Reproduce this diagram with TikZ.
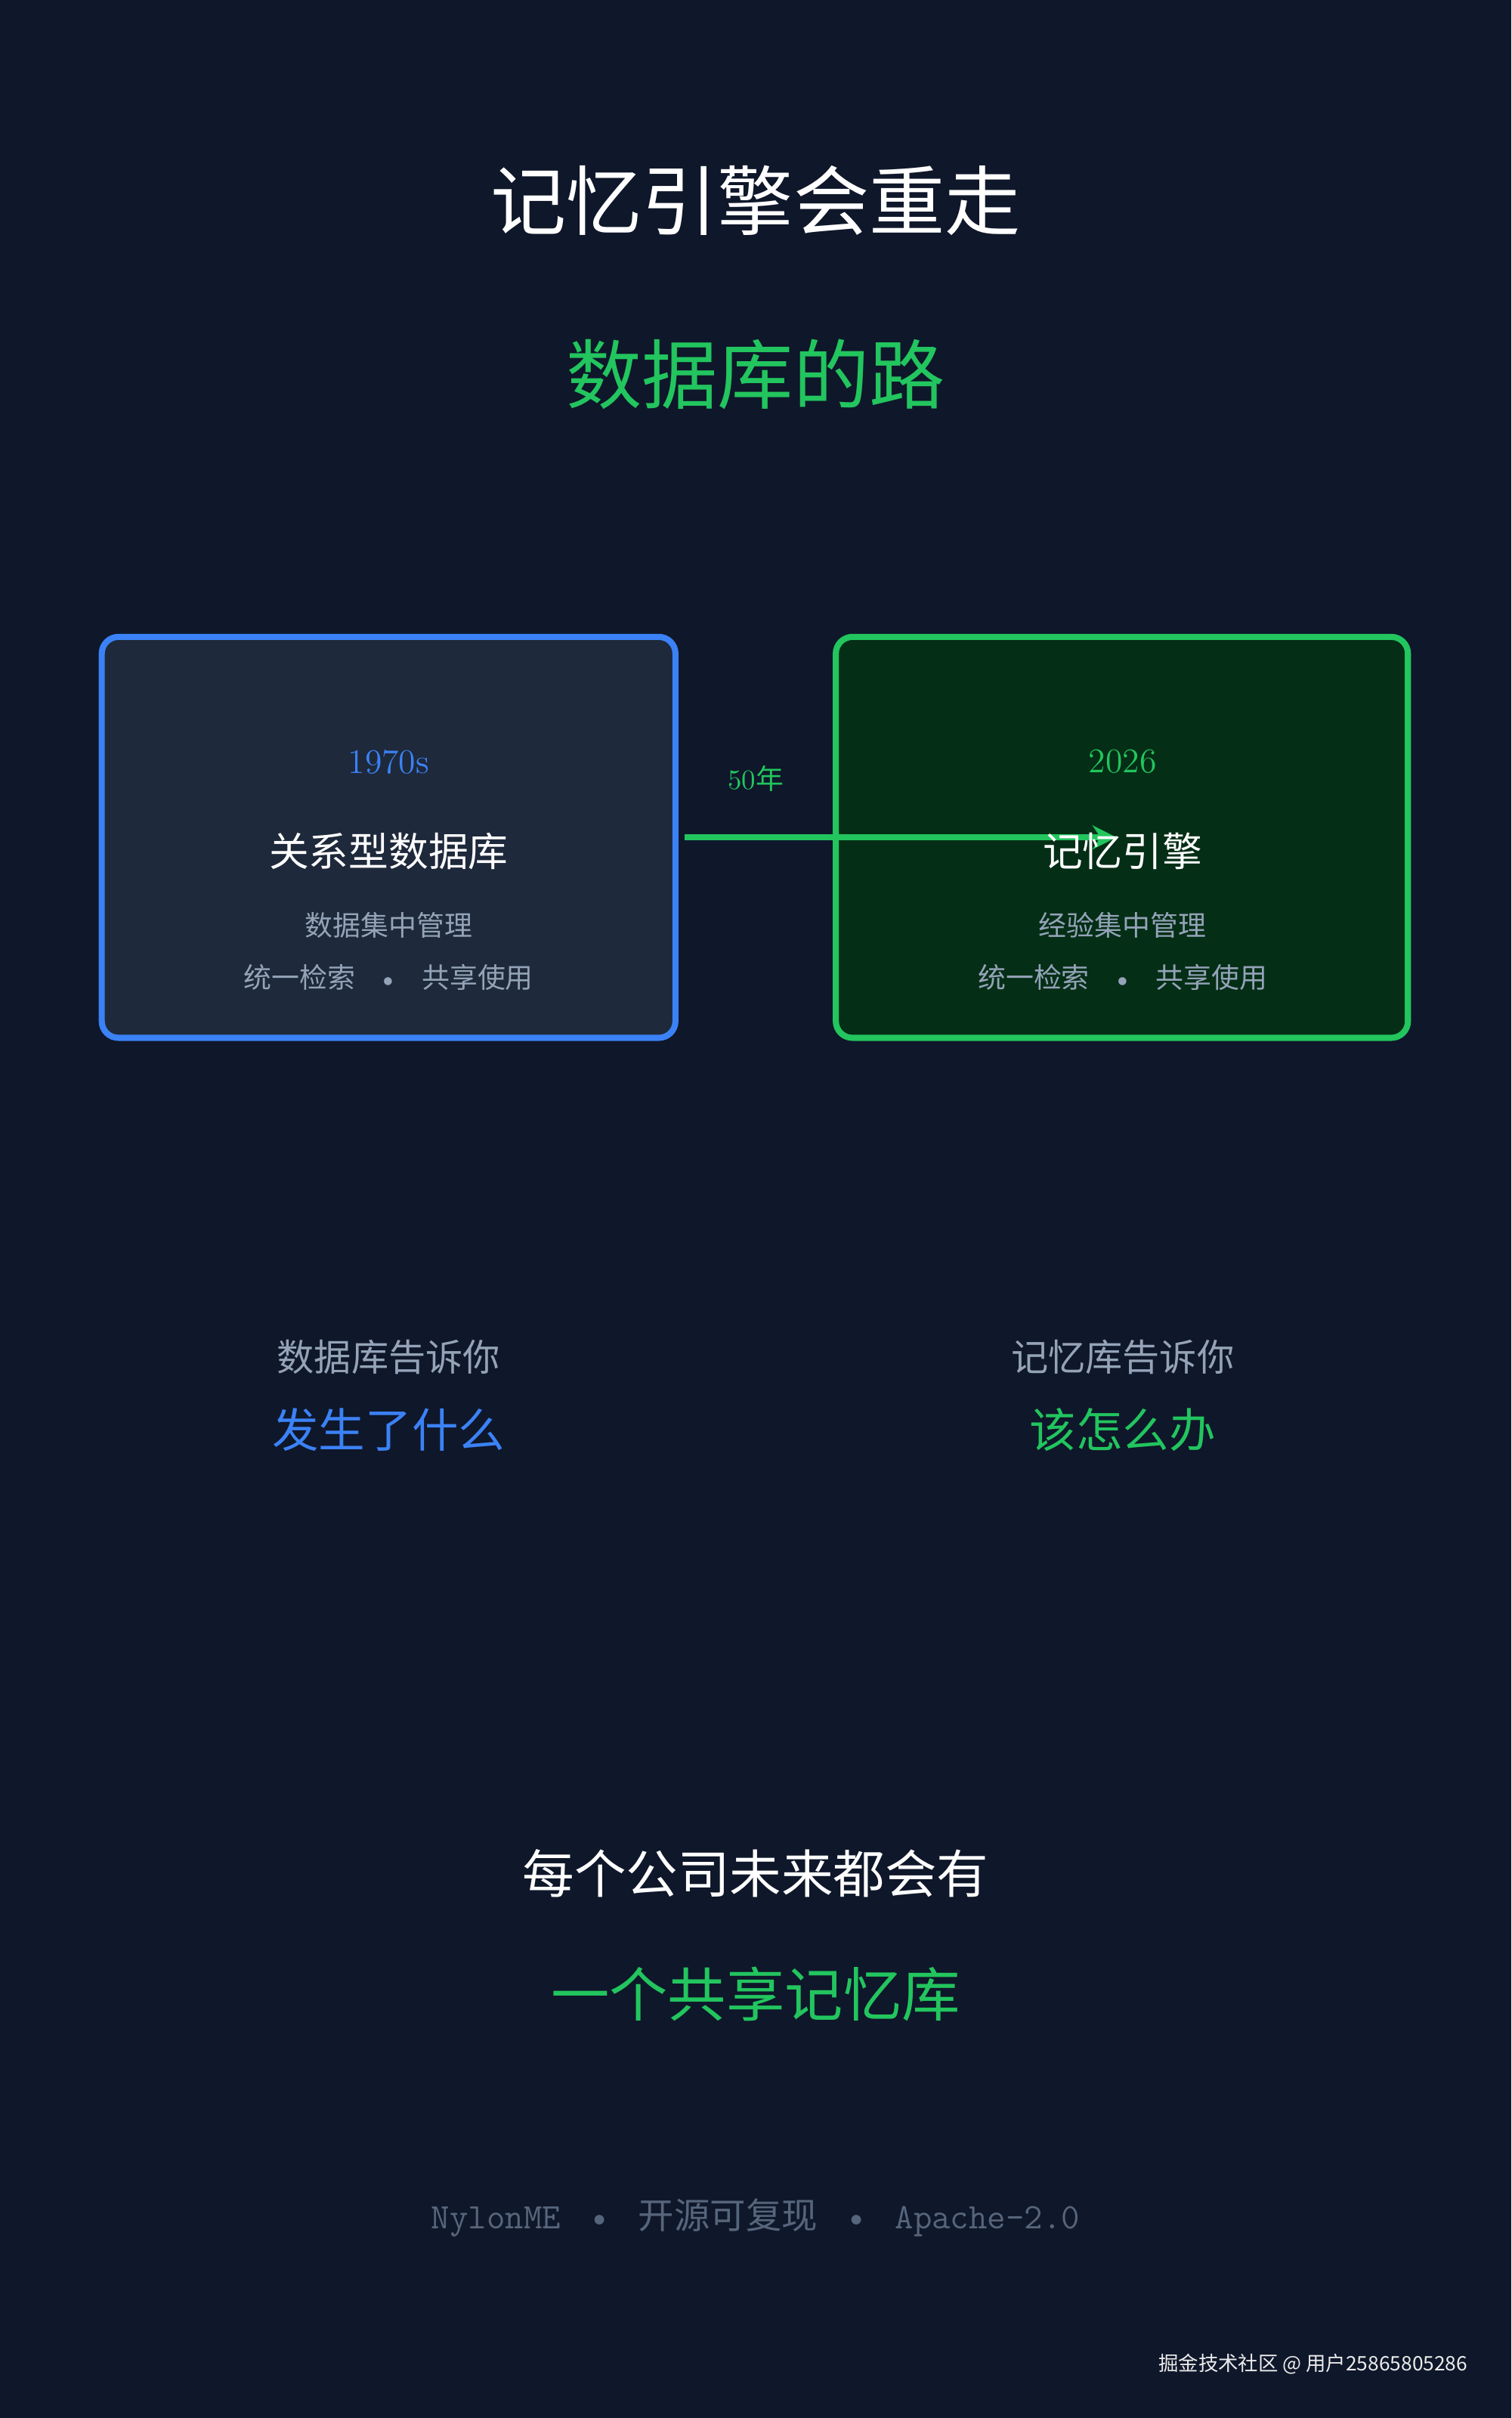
\documentclass[tikz,border=0pt]{standalone}
\usepackage{fontspec}
\newfontfamily\cjk{Noto Sans CJK SC}
\usetikzlibrary{arrows.meta}
\definecolor{bg}{HTML}{0F172A}
\definecolor{blu}{HTML}{3B82F6}
\definecolor{grn}{HTML}{22C55E}
\definecolor{gry}{HTML}{94A3B8}
\definecolor{dgry}{HTML}{56657C}
\definecolor{boxa}{HTML}{1E293B}
\definecolor{boxb}{HTML}{052E16}
\begin{document}
\begin{tikzpicture}[x=0.020408cm,y=-0.020408cm,
  t/.style={inner sep=0pt,anchor=center},
  card/.style={rounded corners=0.22cm,line width=2.3pt}]
\fill[bg] (0,0) rectangle (980,1568);
\useasboundingbox (0,0) rectangle (980,1568);
\node[t,text=white,font=\cjk\fontsize{28.5}{34}\selectfont] (title) at (490,130) {记忆引擎会重走};
\node[t,text=grn,font=\cjk\fontsize{28.5}{34}\selectfont] (sub) at (490,243) {数据库的路};
\draw[card,draw=blu,fill=boxa] (66,413) rectangle (438,673);
\draw[card,draw=grn,fill=boxb] (542,413) rectangle (913,673);
\node[t,text=blu,font=\fontsize{13}{15}\selectfont] (y1) at (252,494) {1970s};
\node[t,text=white,font=\cjk\fontsize{15}{18}\selectfont] (n1) at (252,552) {关系型数据库};
\node[t,text=gry,font=\cjk\fontsize{10.5}{13}\selectfont] (d1) at (252,600) {数据集中管理};
\node[t,text=gry,font=\cjk\fontsize{10.5}{13}\selectfont] (e1) at (252,634) {统一检索\hspace{0.8em}{\rmfamily\textbullet}\hspace{0.8em}共享使用};
\node[t,text=grn,font=\fontsize{13}{15}\selectfont] (y2) at (728,494) {2026};
\node[t,text=gry,font=\cjk\fontsize{10.5}{13}\selectfont] (d2) at (728,600) {经验集中管理};
\node[t,text=gry,font=\cjk\fontsize{10.5}{13}\selectfont] (e2) at (728,634) {统一检索\hspace{0.8em}{\rmfamily\textbullet}\hspace{0.8em}共享使用};
\coordinate (a1) at (444,543);
\coordinate (a2) at (724,543);
\draw[grn,line width=2.3pt,-{Stealth[length=9pt,width=9pt]}] (a1) -- (a2);
\node[t,text=white,font=\cjk\fontsize{15}{18}\selectfont] (n2) at (728,552) {记忆引擎};
\node[t,text=grn,font=\fontsize{10.5}{12}\selectfont] (lab) at (490,505) {50{\cjk 年}};
\node[t,text=gry,font=\cjk\fontsize{14}{17}\selectfont] (q1) at (252,880) {数据库告诉你};
\node[t,text=blu,font=\cjk\fontsize{17.5}{22}\selectfont] (r1) at (252,927) {发生了什么};
\node[t,text=gry,font=\cjk\fontsize{14}{17}\selectfont] (q2) at (728,880) {记忆库告诉你};
\node[t,text=grn,font=\cjk\fontsize{17.5}{22}\selectfont] (r2) at (728,927) {该怎么办};
\node[t,text=white,font=\cjk\fontsize{19.5}{23}\selectfont] (b1) at (490,1215) {每个公司未来都会有};
\node[t,text=grn,font=\cjk\fontsize{22}{26}\selectfont] (b2) at (490,1293) {一个共享记忆库};
\node[t,text=dgry,font=\fontsize{13.5}{15}\selectfont] (foot) at (490,1438) {\ttfamily NylonME\hspace{0.7em}{\rmfamily\textbullet}\hspace{0.7em}{\cjk 开源可复现}\hspace{0.7em}{\rmfamily\textbullet}\hspace{0.7em}Apache-2.0};
\node[t,anchor=east,text=white!85!gray,font=\cjk\fontsize{7.5}{9}\selectfont] (wm) at (952,1533) {掘金技术社区 @ 用户25865805286};
\end{tikzpicture}
\end{document}
